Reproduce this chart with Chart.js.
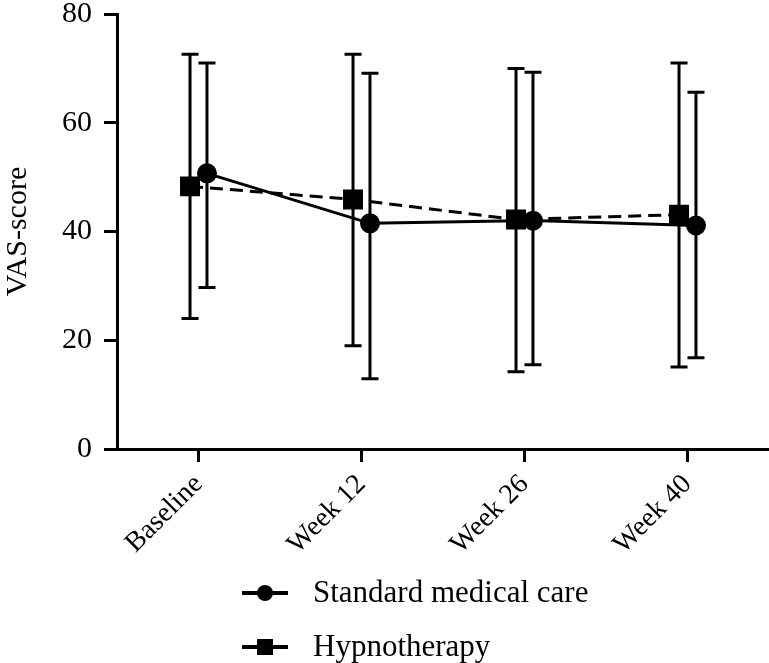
<!DOCTYPE html>
<html>
<head>
<meta charset="utf-8">
<script src="https://cdn.jsdelivr.net/npm/chart.js@4/dist/chart.umd.min.js"></script>
<style>
  html, body { margin: 0; padding: 0; background: #fff; overflow: hidden; }
  #wrap { width: 769px; height: 663px; }
</style>
</head>
<body>
<div id="wrap"><canvas id="chart"></canvas></div>
<script>
// VAS-score per visit, mean with error bars
const labels = ['Baseline', 'Week 12', 'Week 26', 'Week 40'];

const standardMean  = [50.7, 41.5, 42.0, 41.1];
const standardUpper = [71.0, 69.1, 69.3, 65.6];
const standardLower = [29.7, 12.9, 15.5, 16.8];

const hypnoMean  = [48.3, 45.9, 42.2, 43.1];
const hypnoUpper = [72.6, 72.6, 70.0, 71.0];
const hypnoLower = [24.0, 19.0, 14.2, 15.1];

const yTicks = [0, 20, 40, 60, 80];

const shift = 0.052; // groups sit a little apart around each tick
const FONT = "'Liberation Serif', 'DejaVu Serif', serif";

function points(means, dx) {
    return means.map((v, i) => ({ x: i + dx, y: v }));
}

// error bars with caps
const errorBars = {
    id: 'errorBars',
    beforeDatasetsDraw(chart) {
        const ctx = chart.ctx;
        const y = chart.scales.y;
        chart.data.datasets.forEach((ds, di) => {
            const meta = chart.getDatasetMeta(di);
            meta.data.forEach((pt, i) => {
                const top = y.getPixelForValue(ds.upper[i]);
                const bot = y.getPixelForValue(ds.lower[i]);
                ctx.save();
                ctx.strokeStyle = '#000';
                ctx.lineWidth = 3;
                ctx.beginPath();
                ctx.moveTo(pt.x, top); ctx.lineTo(pt.x, bot);
                ctx.moveTo(pt.x - 8.5, top); ctx.lineTo(pt.x + 8.5, top);
                ctx.moveTo(pt.x - 8.5, bot); ctx.lineTo(pt.x + 8.5, bot);
                ctx.stroke();
                ctx.restore();
            });
        });
    }
};

// legend stacked under the chart: line + marker, then the name
const stackedLegend = {
    id: 'stackedLegend',
    afterDraw(chart) {
        const ctx = chart.ctx;
        const rows = [593, 647];
        chart.data.datasets.forEach((ds, i) => {
            const yy = rows[i];
            ctx.save();
            ctx.strokeStyle = '#000';
            ctx.fillStyle = '#000';
            ctx.lineWidth = 4;
            ctx.beginPath();
            ctx.moveTo(242, yy); ctx.lineTo(288, yy);
            ctx.stroke();
            if (ds.pointStyle === 'rect') {
                ctx.fillRect(265 - 8, yy - 8, 16, 16);
            } else {
                ctx.beginPath();
                ctx.arc(265, yy, 8, 0, Math.PI * 2);
                ctx.fill();
            }
            ctx.font = '31px ' + FONT;
            ctx.textBaseline = 'middle';
            ctx.fillText(ds.label, 313, yy + 1);
            ctx.restore();
        });
    }
};

const ctx = document.getElementById('chart').getContext('2d');
const myChart = new Chart(ctx, {
    type: 'line',
    data: {
        datasets: [{
            label: 'Standard medical care',
            data: points(standardMean, shift),
            upper: standardUpper,
            lower: standardLower,
            borderColor: '#000',
            backgroundColor: '#000',
            borderWidth: 3,
            pointStyle: 'circle',
            pointRadius: 8.5,
            pointHoverRadius: 8.5
        }, {
            label: 'Hypnotherapy',
            data: points(hypnoMean, -shift),
            upper: hypnoUpper,
            lower: hypnoLower,
            borderColor: '#000',
            backgroundColor: '#000',
            borderWidth: 3,
            borderDash: [13, 7],
            pointStyle: 'rect',
            pointRadius: 12,
            pointHoverRadius: 12
        }]
    },
    options: {
        responsive: true,
        maintainAspectRatio: false,
        animation: false,
        layout: { autoPadding: false, padding: { top: 14, right: 0, left: 0, bottom: 0 } },
        plugins: {
            legend: { display: false },
            tooltip: { enabled: false }
        },
        scales: {
            x: {
                type: 'linear',
                min: -0.5,
                max: 3.5,
                afterBuildTicks(scale) {
                    scale.ticks = labels.map((l, i) => ({ value: i }));
                },
                afterFit(scale) {
                    scale.height = 214;
                    scale.paddingLeft = 0;
                    scale.paddingRight = 0;
                },
                border: { color: '#000', width: 3 },
                grid: { drawOnChartArea: false, color: '#000', lineWidth: 3, tickLength: 13 },
                ticks: {
                    color: '#000',
                    font: { family: FONT, size: 28 },
                    minRotation: 45,
                    maxRotation: 45,
                    padding: 6,
                    callback: (v) => labels[v]
                }
            },
            y: {
                min: 0,
                max: 80,
                afterBuildTicks(scale) {
                    scale.ticks = yTicks.map(v => ({ value: v }));
                },
                afterFit(scale) {
                    scale.width = 117;
                    scale.paddingTop = 0;
                    scale.paddingBottom = 0;
                },
                border: { color: '#000', width: 3 },
                grid: { drawOnChartArea: false, color: '#000', lineWidth: 3, tickLength: 13 },
                ticks: {
                    color: '#000',
                    font: { family: FONT, size: 30 },
                    padding: 12
                },
                title: {
                    display: true,
                    text: 'VAS-score',
                    color: '#000',
                    font: { family: FONT, size: 30 },
                    padding: { top: 0, bottom: 0 }
                }
            }
        }
    },
    plugins: [errorBars, stackedLegend]
});
</script>
</body>
</html>
